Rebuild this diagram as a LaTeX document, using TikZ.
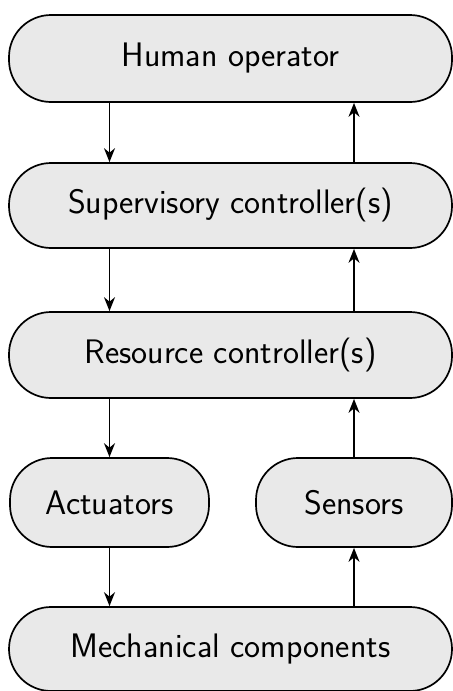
\documentclass[tikz,border=0pt]{standalone}
\usetikzlibrary{arrows.meta}
\definecolor{boxfill}{HTML}{E9E9E9}
\begin{document}
\begin{tikzpicture}[x=0.5pt,y=-0.5pt,
  box/.style={draw=black, line width=0.85pt, fill=boxfill, rounded corners=21pt,
    inner sep=0pt, font=\fontsize{17}{20}\selectfont\sffamily},
  arr/.style={-{Stealth[length=7pt,width=5.5pt]}, line width=0.85pt}]
\useasboundingbox (0,0) rectangle (453,691);
\node[box, minimum width=221.5pt, minimum height=43.5pt] (human) at (230.5,58.5) {Human operator};
\node[box, minimum width=221.5pt, minimum height=42.5pt] (sup) at (230.5,205.5) {Supervisory controller(s)};
\node[box, minimum width=221.5pt, minimum height=43pt] (res) at (230.5,355) {Resource controller(s)};
\node[box, minimum width=99.5pt, minimum height=44.5pt] (act) at (109.5,502.5) {Actuators};
\node[box, minimum width=98pt, minimum height=44.5pt] (sen) at (354,502.5) {Sensors};
\node[box, minimum width=221.5pt, minimum height=42pt] (mech) at (230.5,649) {Mechanical components};
\draw[arr] (human.south -| act) -- (sup.north -| act);
\draw[arr] (sup.south -| act) -- (res.north -| act);
\draw[arr] (res.south -| act) -- (act.north);
\draw[arr] (act.south) -- (mech.north -| act);
\draw[arr] (mech.north -| sen) -- (sen.south);
\draw[arr] (sen.north) -- (res.south -| sen);
\draw[arr] (res.north -| sen) -- (sup.south -| sen);
\draw[arr] (sup.north -| sen) -- (human.south -| sen);
\end{tikzpicture}
\end{document}
